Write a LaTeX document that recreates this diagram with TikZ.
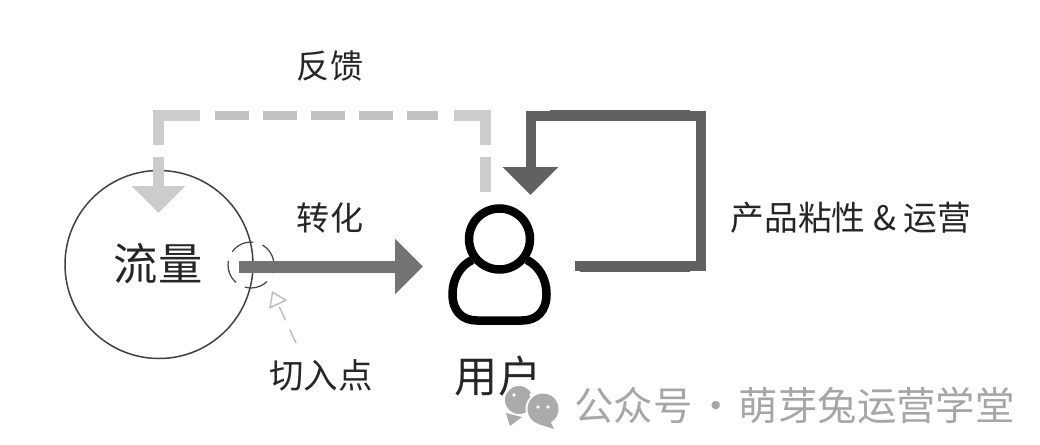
\documentclass[tikz,border=0pt]{standalone}
\usepackage{fontspec}
\setmainfont{Noto Sans CJK SC}
\usepackage{tikz}
\usetikzlibrary{arrows.meta}

\tikzset{
  lbl/.style={inner sep=0pt, text=black!85},
  bigarrow/.style={line width=0.12cm, -{Triangle[length=0.28cm,width=0.54cm]}},
  backline/.style={line width=0.105cm, draw=black!20},
  loopline/.style={line width=0.1cm, draw=black!62, line join=miter, -{Triangle[length=0.28cm,width=0.54cm]}},
  darkbar/.style={left color=black!62, middle color=black!88, right color=black!62}
}

\begin{document}
\begin{tikzpicture}[>=stealth]
\useasboundingbox (0,0) rectangle (10.4,4.44);
% turning points:
\coordinate (fb1) at (4.855,2.52);
\coordinate (fb2) at (4.855,2.87);
\coordinate (fb3) at (4.855,2.99);
\coordinate (fb4) at (4.855,3.285);
\coordinate (fb5) at (4.54,3.285);
\coordinate (fb6) at (2.0,3.285);
\coordinate (fb7) at (1.585,3.285);
\coordinate (fb8) at (1.585,2.99);
\coordinate (fb9) at (1.585,2.87);
\coordinate (fb10) at (1.585,2.31);
\coordinate (tp1) at (2.15,3.285);
\coordinate (tp2) at (4.38,3.285);
\coordinate (zr1) at (2.39,1.775);
\coordinate (zr2) at (4.23,1.775);
\coordinate (lp1) at (5.75,1.78);
\coordinate (lp2) at (7.01,1.78);
\coordinate (lp3) at (7.01,3.285);
\coordinate (lp4) at (5.305,3.285);
\coordinate (lp5) at (5.305,2.49);
\coordinate (pt1) at (2.96,1.01);
\coordinate (pt2) at (2.72,1.53);
% circle and labels:
\node (flow) at (1.59,1.795) [circle, minimum size=1.88cm, inner sep=0pt, draw=black!75, line width=0.15mm] {};
\node (flowtxt) at (1.58,1.8) [lbl, font=\fontsize{12.6}{12.6}\selectfont] {流量};
\node (fbtxt) at (3.3,3.78) [lbl, font=\fontsize{9.4}{9.4}\selectfont] {反馈};
\node (zhtxt) at (3.3,2.26) [lbl, font=\fontsize{9.4}{9.4}\selectfont] {转化};
\node (cuttxt) at (3.21,0.69) [lbl, font=\fontsize{9.8}{9.8}\selectfont] {切入点};
\node (looptxt) at (8.51,2.26) [lbl, font=\fontsize{9.6}{9.6}\selectfont] {产品粘性 \& 运营};
% cut-in ring:
\node (ring) at (2.51,1.79) [circle, minimum size=0.46cm, inner sep=0pt, draw=black!75, line width=0.12mm, dash pattern=on 0.24cm off 0.1cm] {};
% feedback:
\draw[backline] (fb1) -- (fb2);
\draw[backline] (fb3) -- (fb4) -- (fb5);
\draw[backline, dash pattern=on 0.335cm off 0.145cm, line width=0.09cm, draw=black!24] (tp1) -- (tp2);
\draw[backline] (fb6) -- (fb7) -- (fb8);
\draw[backline, -{Triangle[length=0.27cm,width=0.52cm]}] (fb9) -- (fb10);
% conversion and loop:
\draw[bigarrow, black!55] (zr1) -- (zr2);
\draw[loopline] (lp1) -- (lp2) -- (lp3) -- (lp4) -- (lp5);
\shade[darkbar] (5.5,3.235) rectangle (6.9,3.335);
\shade[darkbar] (5.8,1.73) rectangle (6.9,1.83);
% pointer:
\draw[draw=black!25, line width=0.15mm, dash pattern=on 0.15cm off 0.1cm, -{Triangle[open,length=0.15cm,width=0.2cm]}] (pt1) -- (pt2);
% user icon:
\node (head) at (4.995,2.05) [circle, minimum size=0.61cm, inner sep=0pt, draw=black, line width=0.085cm] {};
\draw[line width=0.085cm, line join=round] (4.72,1.84) .. controls (4.6,1.78) and (4.525,1.65) .. (4.525,1.5) .. controls (4.525,1.33) and (4.62,1.235) .. (4.77,1.235) -- (5.22,1.235) .. controls (5.37,1.235) and (5.465,1.33) .. (5.465,1.5) .. controls (5.465,1.65) and (5.39,1.78) .. (5.27,1.84);
% wechat logo:
\node (usertxt) at (4.98,0.68) [lbl, font=\fontsize{12.3}{12.3}\selectfont] {用户};
\fill[black!33] (5.06,0.31) -- (5.1,0.18) -- (5.22,0.27) -- cycle;
\fill[black!33] (5.19,0.44) circle (0.14);
\fill[white] (5.43,0.35) circle (0.175);
\fill[black!33] (5.43,0.35) circle (0.155);
\fill[black!33] (5.5,0.23) -- (5.54,0.15) -- (5.38,0.2) -- cycle;
\fill[white] (5.14,0.49) circle (0.018);
\fill[white] (5.31,0.49) circle (0.018);
\fill[white] (5.38,0.37) circle (0.018);
\fill[white] (5.48,0.37) circle (0.018);
\node (mark) at (7.945,0.39) [lbl, text=black!35, font=\fontsize{11.2}{11.2}\selectfont] {公众号\kern1pt·\kern1pt 萌芽兔运营学堂};
\end{tikzpicture}
\end{document}
